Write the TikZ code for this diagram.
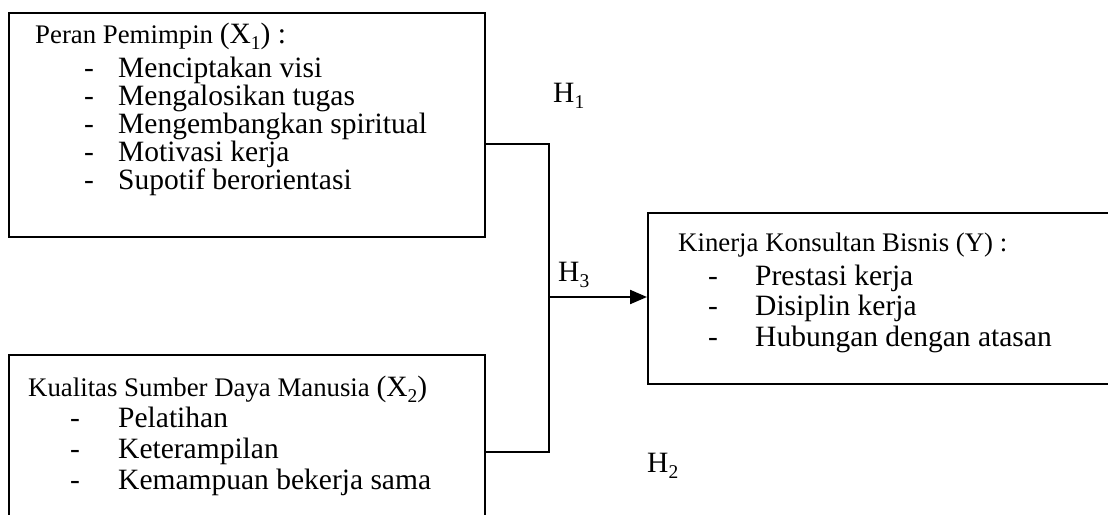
\documentclass[tikz,border=0pt]{standalone}
\usepackage{fontspec}
\setmainfont{Liberation Serif}
\usetikzlibrary{arrows.meta}
\newcommand{\lowsub}[1]{\raisebox{-0.22em}{\scalebox{0.66}{#1}}}
\newcommand{\fsA}{\fontsize{29.5}{29.5}\selectfont}
\newcommand{\fsB}{\fontsize{26.8}{26.8}\selectfont}
\tikzset{
  boxnode/.style={draw, line width=2.2pt, rectangle, inner sep=0pt, anchor=north west},
  conn/.style={line width=2.2pt},
  ttl/.style={anchor=base west, inner sep=0pt, font=\fsB},
  itm/.style={anchor=base west, inner sep=0pt, font=\fsA},
  hlab/.style={anchor=base west, inner sep=0pt, font=\fsA}
}
\begin{document}
\begin{tikzpicture}[x=1pt,y=-1pt]
\useasboundingbox (0,0) rectangle (1108,514);
\clip (0,0) rectangle (1108,514);
\fill[white] (0,0) rectangle (1108,514);
% boxes
\node[boxnode, minimum width=476pt, minimum height=224pt] (x1) at (8,12) {};
\node[boxnode, minimum width=476pt, minimum height=220pt] (x2) at (8,354) {};
\node[boxnode, minimum width=520pt, minimum height=171pt] (y) at (647,212) {};
% box 1 text
\node[ttl] (x1t) at (35,43) {Peran Pemimpin {\fsA(X\lowsub{1}) :}};
\foreach \t [count=\i] in {Menciptakan visi, Mengalosikan tugas, Mengembangkan spiritual, Motivasi kerja, Supotif berorientasi}{
  \node[itm] (x1d\i) at (84,{77+28*(\i-1)}) {-};
  \node[itm] (x1i\i) at (118,{77+28*(\i-1)}) {\t};
}
% box 2 text
\node[ttl] (x2t) at (28,396) {Kualitas Sumber Daya Manusia {\fsA(X\lowsub{2})}};
\foreach \t [count=\i] in {Pelatihan, Keterampilan, Kemampuan bekerja sama}{
  \node[itm] (x2d\i) at (70,{427+31*(\i-1)}) {-};
  \node[itm] (x2i\i) at (118,{427+31*(\i-1)}) {\t};
}
% box Y text
\node[ttl] (yt) at (678,251) {Kinerja Konsultan Bisnis (Y) :};
\foreach \t [count=\i] in {Prestasi kerja, Disiplin kerja, Hubungan dengan atasan}{
  \node[itm] (yd\i) at (708,{285+30.5*(\i-1)}) {-};
  \node[itm] (yi\i) at (755,{285+30.5*(\i-1)}) {\t};
}
% connectors
\coordinate (c1) at (549,144);
\coordinate (c2) at (549,452);
\coordinate (j) at (549,297);
\draw[conn] (x1.east |- c1) -- (c1) -- (c2) -- (x2.east |- c2);
\draw[conn, -{Triangle[length=17pt,width=14pt]}] (j) -- (y.west |- j);
% hypothesis labels
\node[hlab] (h1) at (553,102) {H\lowsub{1}};
\node[hlab] (h3) at (558,281) {H\lowsub{3}};
\node[hlab] (h2) at (647,472) {H\lowsub{2}};
\end{tikzpicture}
\end{document}
